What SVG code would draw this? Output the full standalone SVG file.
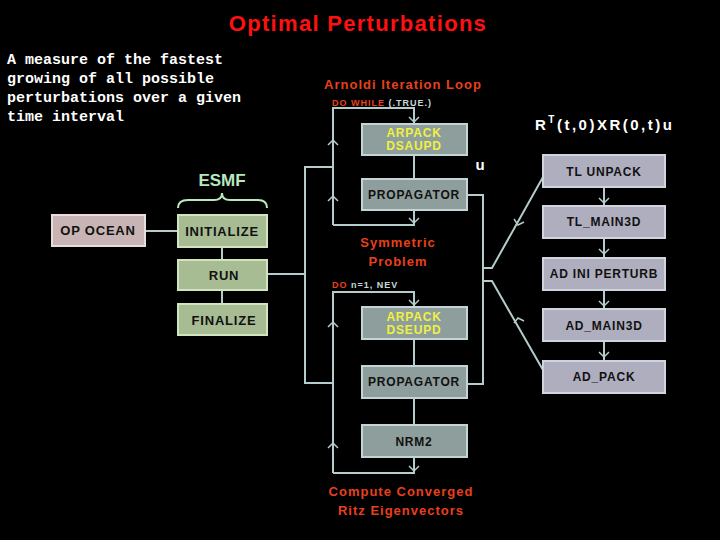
<svg xmlns="http://www.w3.org/2000/svg" width="720" height="540" viewBox="0 0 720 540">
<defs>
<style>
text{font-family:"Liberation Sans",Arial,sans-serif;font-weight:bold}
text.mono{font-family:"Liberation Mono","Courier New",monospace;font-size:15px;fill:#fff}
.ln{stroke:#b4cccc;stroke-width:2;fill:none}
.ch{stroke:#b4cccc;stroke-width:1.5;fill:none}
.g{fill:#8e9e9c;stroke:#c4d4d4;stroke-width:2}
.gr{fill:#a8bc94;stroke:#d0e4c0;stroke-width:2}
.lv{fill:#aeaebe;stroke:#d0d4dc;stroke-width:2}
.red{fill:#e8401c;letter-spacing:1px}
.bt{font-size:13px;fill:#111;text-anchor:middle;letter-spacing:0.8px}
</style>
</defs>
<rect width="720" height="540" fill="#000"/>
<text x="358" y="31" font-size="22" fill="#ff1010" text-anchor="middle" letter-spacing="1.3">Optimal Perturbations</text>
<text class="mono" x="7" y="64">A measure of the fastest</text>
<text class="mono" x="7" y="83">growing of all possible</text>
<text class="mono" x="7" y="102">perturbations over a given</text>
<text class="mono" x="7" y="121">time interval</text>
<text x="222" y="186" font-size="17" fill="#b8e8c0" text-anchor="middle">ESMF</text>
<path d="M178,208 Q178,200 188,200 L214,200 Q222,200 222,193 Q222,200 230,200 L258,200 Q267,200 267,208" stroke="#b8e8c0" stroke-width="2" fill="none"/>
<text x="403" y="89" font-size="13" class="red" text-anchor="middle">Arnoldi Iteration Loop</text>
<text x="332" y="106" font-size="9" class="red">DO WHILE <tspan fill="#c8d8d8">(.TRUE.)</tspan></text>
<text x="398" y="247" font-size="13" class="red" text-anchor="middle">Symmetric</text>
<text x="398" y="266" font-size="13" class="red" text-anchor="middle">Problem</text>
<text x="332" y="288" font-size="9" class="red">DO <tspan fill="#c8d8d8">n=1, NEV</tspan></text>
<text x="401" y="496" font-size="13" class="red" text-anchor="middle">Compute Converged</text>
<text x="401" y="515" font-size="13" class="red" text-anchor="middle">Ritz Eigenvectors</text>
<text x="480" y="170" font-size="15" fill="#fff" text-anchor="middle">u</text>
<text x="535" y="130" font-size="15" fill="#fff" letter-spacing="2.5">R<tspan font-size="10" dy="-7">T</tspan><tspan dy="7">(t,0)XR(0,t)u</tspan></text>
<g id="connectors">
<path class="ln" d="M145,231H178M222,247V260M222,290V304M267,274H305M333,167H305V383H333"/>
<path class="ln" d="M333,225V108H414V124M414,155V179M414,210V225H333"/>
<path class="ch" d="M409,117L414,122L419,117M409,218L414,223L419,218M328,145L333,140L338,145M328,201L333,196L338,201"/>
<path class="ln" d="M467,195H483V384H467M483,268H492L543,177M483,281H492L543,370"/>
<path class="ch" d="M514,219L518,225L524,222M514,323L518,318L524,321"/>
<path class="ln" d="M333,473V292H414V307M414,339V366M414,398V425M414,457V473H333"/>
<path class="ch" d="M409,300L414,305L419,300M409,466L414,471L419,466M328,327L333,322L338,327M328,448L333,443L338,448"/>
<path class="ln" d="M604,187V206M604,238V258M604,290V309M604,341V361"/>
<path class="ch" d="M599,198L604,203L609,198M599,249L604,254L609,249M599,301L604,306L609,301M599,352L604,357L609,352"/>
</g>
<g id="op-ocean"><rect x="52" y="215" width="93" height="31" fill="#c8b4b4" stroke="#e8dcdc" stroke-width="2"/><text x="98" y="235" class="bt" font-size="11">OP OCEAN</text></g>
<g id="initialize"><rect x="178" y="215" width="89" height="32" class="gr"/><text x="222" y="236" class="bt">INITIALIZE</text></g>
<g id="run"><rect x="178" y="260" width="89" height="30" class="gr"/><text x="224" y="280" class="bt">RUN</text></g>
<g id="finalize"><rect x="178" y="304" width="89" height="31" class="gr"/><text x="224" y="325" class="bt">FINALIZE</text></g>
<g id="dsaupd"><rect x="362" y="124" width="105" height="31" class="g"/><text x="414" y="137" class="bt" style="fill:#f0f040;font-size:12px">ARPACK</text><text x="414" y="150" class="bt" style="fill:#f0f040;font-size:12px">DSAUPD</text></g>
<g id="propagator1"><rect x="362" y="179" width="105" height="31" class="g"/><text x="414" y="199" class="bt" style="font-size:12px">PROPAGATOR</text></g>
<g id="dseupd"><rect x="362" y="307" width="105" height="32" class="g"/><text x="414" y="321" class="bt" style="fill:#f0f040;font-size:12px">ARPACK</text><text x="414" y="334" class="bt" style="fill:#f0f040;font-size:12px">DSEUPD</text></g>
<g id="propagator2"><rect x="362" y="366" width="105" height="32" class="g"/><text x="414" y="386" class="bt" style="font-size:12px">PROPAGATOR</text></g>
<g id="nrm2"><rect x="362" y="425" width="105" height="32" class="g"/><text x="414" y="446" class="bt" style="font-size:12px">NRM2</text></g>
<g id="tl-unpack"><rect x="543" y="155" width="122" height="32" class="lv"/><text x="604" y="176" class="bt" style="font-size:12px">TL UNPACK</text></g>
<g id="tl-main3d"><rect x="543" y="206" width="122" height="32" class="lv"/><text x="604" y="226" class="bt" style="font-size:12px">TL_MAIN3D</text></g>
<g id="ad-ini-perturb"><rect x="543" y="258" width="122" height="32" class="lv"/><text x="604" y="278" class="bt" style="font-size:12px">AD INI PERTURB</text></g>
<g id="ad-main3d"><rect x="543" y="309" width="122" height="32" class="lv"/><text x="604" y="330" class="bt" style="font-size:12px">AD_MAIN3D</text></g>
<g id="ad-pack"><rect x="543" y="361" width="122" height="32" class="lv"/><text x="604" y="381" class="bt" style="font-size:12px">AD_PACK</text></g>
</svg>
